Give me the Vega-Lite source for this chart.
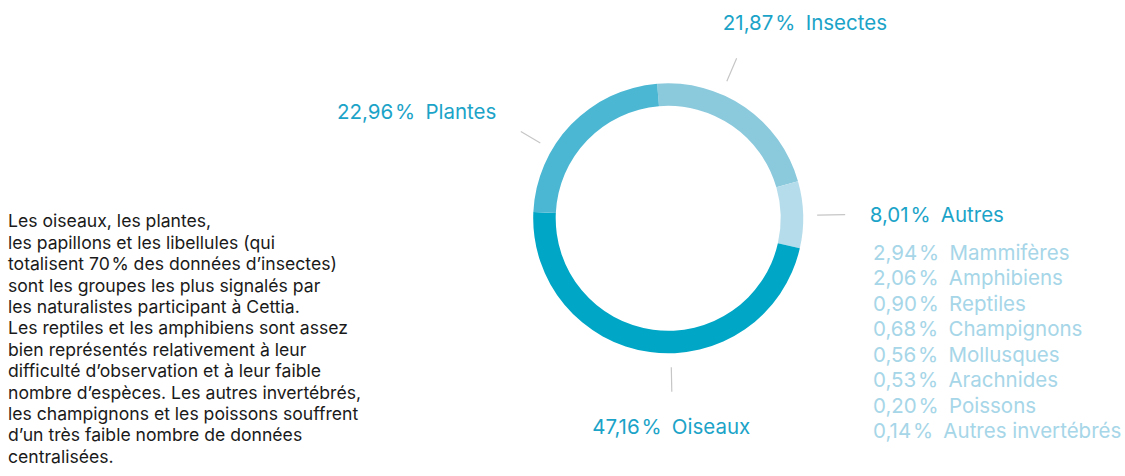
{
  "$schema": "https://vega.github.io/schema/vega-lite/v6.json",
  "padding": {"left": 8, "top": 0, "right": 0, "bottom": 0},
  "bounds": "flush",
  "spacing": 0,
  "config": {"view": {"stroke": null}, "font": "Inter"},
  "hconcat": [
    {
      "width": 455.3,
      "height": 476,
      "data": {"values": [
        {"line": 1, "text": "Les oiseaux, les plantes,"},
        {"line": 2, "text": "les papillons et les libellules (qui"},
        {"line": 3, "text": "totalisent 70\u200a% des données d’insectes)"},
        {"line": 4, "text": "sont les groupes les plus signalés par"},
        {"line": 5, "text": "les naturalistes participant à Cettia."},
        {"line": 6, "text": "Les reptiles et les amphibiens sont assez"},
        {"line": 7, "text": "bien représentés relativement à leur"},
        {"line": 8, "text": "difficulté d’observation et à leur faible"},
        {"line": 9, "text": "nombre d’espèces. Les autres invertébrés,"},
        {"line": 10, "text": "les champignons et les poissons souffrent"},
        {"line": 11, "text": "d’un très faible nombre de données"},
        {"line": 12, "text": "centralisées."}
      ]},
      "mark": {"type": "text", "align": "left", "baseline": "alphabetic", "fontSize": 17.6, "color": "#1a1a1a"},
      "encoding": {
        "x": {"datum": 0, "type": "quantitative", "scale": {"domain": [0, 1]}, "axis": null},
        "y": {"field": "line", "type": "quantitative", "scale": {"domain": [-9.621, 12.621], "reverse": true, "nice": false, "zero": false}, "axis": null},
        "text": {"field": "text", "type": "nominal"}
      }
    },
    {
      "width": 408.4,
      "height": 436.6,
      "data": {"values": [
        {"cat": "Insectes", "pct": 21.87, "label": "21,87\u200a%\u2002Insectes", "rank": 1},
        {"cat": "Autres", "pct": 8.01, "label": "8,01\u200a%\u2002Autres", "rank": 2},
        {"cat": "Oiseaux", "pct": 47.16, "label": "47,16\u200a%\u2002Oiseaux", "rank": 3},
        {"cat": "Plantes", "pct": 22.96, "label": "22,96\u200a%\u2002Plantes", "rank": 4}
      ]},
      "encoding": {
        "theta": {"field": "pct", "type": "quantitative", "stack": true, "scale": {"range": [-0.082, 6.2012]}},
        "order": {"field": "rank", "type": "quantitative"},
        "detail": {"field": "cat", "type": "nominal"}
      },
      "layer": [
        {
          "mark": {"type": "arc", "innerRadius": 112.5, "outerRadius": 135},
          "encoding": {
            "color": {"field": "cat", "type": "nominal", "legend": null,
              "scale": {"domain": ["Insectes", "Autres", "Oiseaux", "Plantes"], "range": ["#8bc9dd", "#b5dcea", "#00a6c6", "#4cb7d3"]}}
          }
        },
        {
          "mark": {"type": "arc", "innerRadius": 149, "outerRadius": 174, "padAngle": 4, "thetaOffset": -0.2007, "theta2Offset": -0.2007, "fillOpacity": 0, "stroke": "#c6c6c6", "strokeWidth": 1.2},
          "encoding": {"strokeOpacity": {"condition": {"test": "datum.cat === 'Insectes'", "value": 1}, "value": 0}}
        },
        {
          "mark": {"type": "arc", "innerRadius": 149, "outerRadius": 177, "padAngle": 4, "thetaOffset": 0.006, "theta2Offset": 0.006, "fillOpacity": 0, "stroke": "#c6c6c6", "strokeWidth": 1.2},
          "encoding": {"strokeOpacity": {"condition": {"test": "datum.cat === 'Autres'", "value": 1}, "value": 0}}
        },
        {
          "mark": {"type": "arc", "innerRadius": 149, "outerRadius": 173.5, "padAngle": 4, "thetaOffset": -0.1562, "theta2Offset": -0.1562, "fillOpacity": 0, "stroke": "#c6c6c6", "strokeWidth": 1.2},
          "encoding": {"strokeOpacity": {"condition": {"test": "datum.cat === 'Oiseaux'", "value": 1}, "value": 0}}
        },
        {
          "mark": {"type": "arc", "innerRadius": 148.4, "outerRadius": 171, "padAngle": 4, "thetaOffset": -0.2356, "theta2Offset": -0.2356, "fillOpacity": 0, "stroke": "#c6c6c6", "strokeWidth": 1.2},
          "encoding": {"strokeOpacity": {"condition": {"test": "datum.cat === 'Plantes'", "value": 1}, "value": 0}}
        },
        {
          "mark": {"type": "text", "radius": 232.7, "thetaOffset": 0.0229, "align": "center", "baseline": "alphabetic", "fontSize": 20.5, "color": "#1ba3c8"},
          "encoding": {"text": {"condition": {"test": "datum.cat === 'Insectes'", "field": "label", "type": "nominal"}, "value": ""}}
        },
        {
          "mark": {"type": "text", "radius": 201.5, "thetaOffset": 0.0454, "align": "left", "baseline": "alphabetic", "fontSize": 20.5, "color": "#1ba3c8"},
          "encoding": {"text": {"condition": {"test": "datum.cat === 'Autres'", "field": "label", "type": "nominal"}, "value": ""}}
        },
        {
          "mark": {"type": "text", "radius": 215.7, "thetaOffset": -0.1494, "align": "center", "baseline": "alphabetic", "fontSize": 20.5, "color": "#1ba3c8"},
          "encoding": {"text": {"condition": {"test": "datum.cat === 'Oiseaux'", "field": "label", "type": "nominal"}, "value": ""}}
        },
        {
          "mark": {"type": "text", "radius": 198.3, "thetaOffset": -0.2447, "align": "right", "baseline": "alphabetic", "fontSize": 20.5, "color": "#1ba3c8"},
          "encoding": {"text": {"condition": {"test": "datum.cat === 'Plantes'", "field": "label", "type": "nominal"}, "value": ""}}
        }
      ]
    },
    {
      "width": 253.3,
      "height": 476,
      "data": {"values": [
        {"rank": 1, "pct": 2.94, "label": "2,94\u200a%\u2002Mammifères"},
        {"rank": 2, "pct": 2.06, "label": "2,06\u200a%\u2002Amphibiens"},
        {"rank": 3, "pct": 0.90, "label": "0,90\u200a%\u2002Reptiles"},
        {"rank": 4, "pct": 0.68, "label": "0,68\u200a%\u2002Champignons"},
        {"rank": 5, "pct": 0.56, "label": "0,56\u200a%\u2002Mollusques"},
        {"rank": 6, "pct": 0.53, "label": "0,53\u200a%\u2002Arachnides"},
        {"rank": 7, "pct": 0.20, "label": "0,20\u200a%\u2002Poissons"},
        {"rank": 8, "pct": 0.14, "label": "0,14\u200a%\u2002Autres invertébrés"}
      ]},
      "mark": {"type": "text", "align": "left", "baseline": "alphabetic", "fontSize": 20.5, "color": "#a6d6e8"},
      "encoding": {
        "x": {"datum": 0, "type": "quantitative", "scale": {"domain": [0, 1]}, "axis": null},
        "y": {"field": "rank", "type": "quantitative", "scale": {"domain": [-9.208, 9.481], "reverse": true, "nice": false, "zero": false}, "axis": null},
        "text": {"field": "label", "type": "nominal"}
      }
    }
  ]
}
